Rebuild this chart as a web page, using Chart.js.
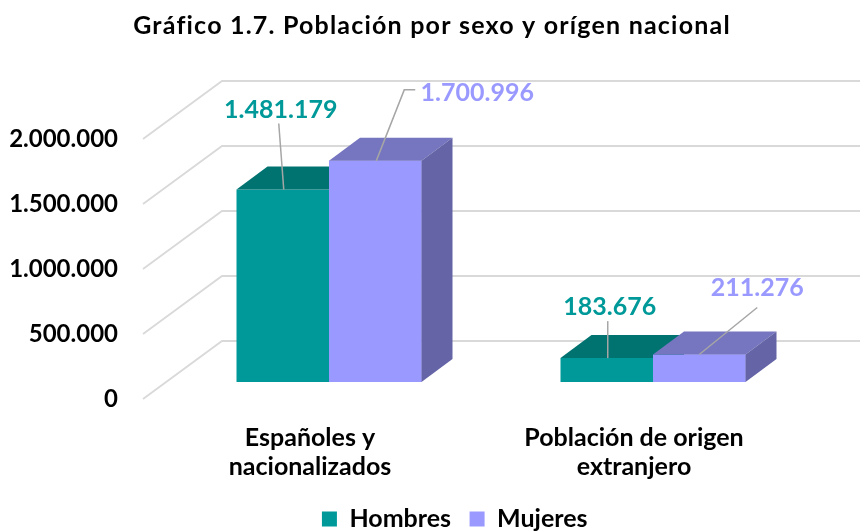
<!DOCTYPE html>
<html><head><meta charset="utf-8">
<script src="https://cdn.jsdelivr.net/npm/chart.js@4.4.0/dist/chart.umd.min.js"></script>
<style>html,body{margin:0;padding:0;background:#fff}canvas{display:block}</style>
</head><body>
<canvas id="c" width="860" height="531"></canvas>
<script>
// ---- data ----
const chartTitle = "Gráfico 1.7. Población por sexo y orígen nacional";
const categories = [["Españoles y", "nacionalizados"], ["Población de origen", "extranjero"]];
const seriesNames = ["Hombres", "Mujeres"];
const hombres = [1481179, 183676];
const mujeres = [1700996, 211276];
const yTicks = [0, 500000, 1000000, 1500000, 2000000];

// ---- styles ----
const FONT = "Lato, 'Open Sans', sans-serif";
const FONT_SIZE = 25;
const COLORS = {
  h: {front: "#009999", top: "#007370", side: "#006868", text: "#009999"},
  m: {front: "#9999FF", top: "#7575C0", side: "#6464A6", text: "#9999FF"}
};
const BAR_DEPTH = {dx: 31, dy: -23};
const WALL = {frontX: 143, backX: 222, frontDy: 17, backDy: -41};
const LEGEND_SHIFT = 49.5;
// label offsets relative to bar top-centre (style, not data)
const labelOffsets = [
  [{dx: -2, dy: -80, leader: "down"}, {dx: 3, dy: -51, leader: "down"}],
  [{dx: 102, dy: -68, leader: "elbow"}, {dx: 58, dy: -67, leader: "diag"}]
];

function fmt(v) { return String(v).replace(/\B(?=(\d{3})+(?!\d))/g, "."); }

const threeD = {
  id: "threeD",
  afterLayout(chart) {
    if (chart.legend) chart.legend.left += LEGEND_SHIFT;
  },
  beforeDatasetsDraw(chart) {
    const y = chart.scales.y, ctx = chart.ctx;
    ctx.save();
    ctx.strokeStyle = "#d9d9d9";
    ctx.lineWidth = 1.8;
    yTicks.forEach(v => {
      const py = y.getPixelForValue(v);
      ctx.beginPath();
      ctx.moveTo(WALL.frontX, py + WALL.frontDy);
      ctx.lineTo(WALL.backX, py + WALL.backDy);
      ctx.lineTo(chart.width, py + WALL.backDy);
      ctx.stroke();
    });
    ctx.restore();
  },
  afterDatasetsDraw(chart) {
    const ctx = chart.ctx;
    const n = chart.data.datasets.length;
    for (let i = 0; i < n; i++) {
      const meta = chart.getDatasetMeta(i);
      const c = chart.data.datasets[i].faces;
      meta.data.forEach(bar => {
        const {x, y, base, width} = bar.getProps(["x", "y", "base", "width"], true);
        const l = x - width / 2, r = x + width / 2;
        ctx.save();
        ctx.fillStyle = c.top;
        ctx.beginPath();
        ctx.moveTo(l, y); ctx.lineTo(r, y);
        ctx.lineTo(r + BAR_DEPTH.dx, y + BAR_DEPTH.dy);
        ctx.lineTo(l + BAR_DEPTH.dx, y + BAR_DEPTH.dy);
        ctx.closePath(); ctx.fill();
        ctx.fillStyle = c.side;
        ctx.beginPath();
        ctx.moveTo(r, y); ctx.lineTo(r + BAR_DEPTH.dx, y + BAR_DEPTH.dy);
        ctx.lineTo(r + BAR_DEPTH.dx, base + BAR_DEPTH.dy);
        ctx.lineTo(r, base);
        ctx.closePath(); ctx.fill();
        ctx.restore();
      });
      if (i + 1 < n) {
        chart.getDatasetMeta(i + 1).data.forEach(bar => bar.draw(ctx));
      }
    }
  },
  afterDraw(chart) {
    const ctx = chart.ctx;
    // title
    ctx.save();
    ctx.font = "bold " + FONT_SIZE + "px " + FONT;
    ctx.letterSpacing = "1.2px";
    ctx.fillStyle = "#000";
    ctx.textAlign = "center";
    ctx.textBaseline = "middle";
    ctx.fillText(chartTitle, 432, 26);
    ctx.restore();
    // data labels with leader lines
    chart.data.datasets.forEach((ds, i) => {
      const meta = chart.getDatasetMeta(i);
      meta.data.forEach((bar, j) => {
        const {x, y} = bar.getProps(["x", "y"], true);
        const o = labelOffsets[i][j];
        const lx = x + o.dx, ly = y + o.dy;
        ctx.save();
        ctx.strokeStyle = "#a6a6a6";
        ctx.lineWidth = 1.5;
        ctx.beginPath();
        if (o.leader === "down") {
          ctx.moveTo(lx - 2, ly + 14); ctx.lineTo(x + 1, y);
        } else if (o.leader === "elbow") {
          ctx.moveTo(lx - 62, ly - 3); ctx.lineTo(lx - 73, ly - 3); ctx.lineTo(x + 1, y);
        } else {
          ctx.moveTo(lx, ly + 20); ctx.lineTo(x, y);
        }
        ctx.stroke();
        ctx.font = "bold " + FONT_SIZE + "px " + FONT;
        ctx.fillStyle = ds.faces.text;
        ctx.textAlign = "center";
        ctx.textBaseline = "middle";
        ctx.fillText(fmt(ds.data[j]), lx, ly);
        ctx.restore();
      });
    });
  }
};

const tickFont = {family: FONT, size: FONT_SIZE, weight: "bold", lineHeight: 1.18};
const yTickFont = {family: FONT, size: 24, weight: "bold", lineHeight: 1.18};

new Chart(document.getElementById("c"), {
  type: "bar",
  data: {
    labels: categories,
    datasets: [
      {label: seriesNames[0], data: hombres, backgroundColor: COLORS.h.front, faces: COLORS.h},
      {label: seriesNames[1], data: mujeres, backgroundColor: COLORS.m.front, faces: COLORS.m}
    ]
  },
  options: {
    responsive: false,
    animation: false,
    devicePixelRatio: 1,
    layout: {padding: {left: 0, right: 0, top: 122, bottom: 0}},
    datasets: {bar: {categoryPercentage: 0.571, barPercentage: 1, borderWidth: 0}},
    plugins: {
      title: {display: false},
      tooltip: {enabled: false},
      legend: {
        position: "bottom",
        maxHeight: 43,
        labels: {boxWidth: 15, boxHeight: 15, padding: 18.5, color: "#000",
                 font: {family: FONT, size: FONT_SIZE, weight: "bold"}}
      }
    },
    scales: {
      x: {
        grid: {display: false, drawTicks: false},
        border: {display: false},
        ticks: {font: tickFont, color: "#000", padding: 41, labelOffset: -19,
                maxRotation: 0, autoSkip: false},
        afterFit(s) { s.height = 106; }
      },
      y: {
        min: 0, max: 2000000,
        grid: {display: false, drawTicks: false},
        border: {display: false},
        ticks: {stepSize: 500000, labelOffset: 17, padding: 49, color: "#000",
                font: yTickFont, callback: v => fmt(v)},
        afterFit(s) { s.width = 167; }
      },
      yr: {
        position: "right", display: true,
        grid: {display: false, drawTicks: false},
        border: {display: false},
        ticks: {display: false},
        afterFit(s) { s.width = 45; }
      }
    }
  },
  plugins: [threeD]
});
</script>
</body></html>
